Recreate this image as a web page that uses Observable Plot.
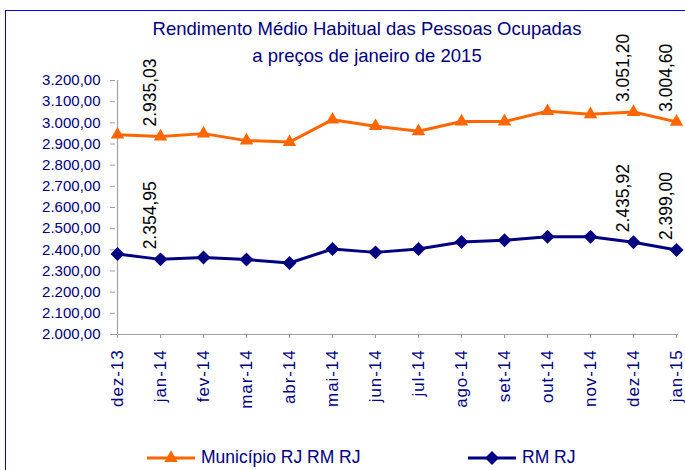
<!DOCTYPE html>
<html>
<head>
<meta charset="utf-8">
<script src="https://cdn.jsdelivr.net/npm/d3@7"></script>
<script src="https://cdn.jsdelivr.net/npm/@observablehq/plot@0.6"></script>
<style>
html, body { margin: 0; padding: 0; background: #fff; overflow: hidden; }
#wrap { position: relative; width: 685px; height: 470px; overflow: hidden; font-family: "Liberation Sans", Arial, sans-serif; background: #fff; }
#border { position: absolute; left: 5px; top: 10px; width: 760px; height: 560px; border-left: 1.5px solid #0000ff; border-top: 1.5px solid #0000ff; box-sizing: border-box; }
#chart { position: absolute; left: 0; top: 0; }
#title { position: absolute; left: 0; width: 734px; top: 15px; text-align: center; color: #000080; font-size: 18.5px; line-height: 27px; }
.leg { position: absolute; top: 447px; height: 20px; display: flex; align-items: center; color: #000080; font-size: 17.5px; }
.leg svg { display: block; margin-right: 4px; }
#chart g[aria-label*="x-axis tick label"] text { letter-spacing: 0.9px; }
#chart g[aria-label="value-labels"] text { letter-spacing: 0.9px; }
</style>
</head>
<body>
<div id="wrap">
  <div id="chart"></div>
  <div id="border"></div>
  <div id="title">Rendimento Médio Habitual das Pessoas Ocupadas<br>a preços de janeiro de 2015</div>
  <div id="legend"></div>
</div>
<script>
const months = ["dez-13","jan-14","fev-14","mar-14","abr-14","mai-14","jun-14","jul-14","ago-14","set-14","out-14","nov-14","dez-14","jan-15"];
const municipio = [2944, 2935.03, 2949, 2916, 2909, 3015, 2984, 2960, 3006, 3006, 3055, 3040, 3051.20, 3004.60];
const rmrj = [2380, 2354.95, 2364, 2354, 2338, 2404, 2388, 2404, 2437, 2445, 2462, 2462, 2435.92, 2399.00];
const yTicks = [2000, 2100, 2200, 2300, 2400, 2500, 2600, 2700, 2800, 2900, 3000, 3100, 3200];
const labeledMonths = ["jan-14", "dez-14", "jan-15"];
const seriesNames = ["Município RJ RM RJ", "RM RJ"];
const colors = ["#FF6600", "#000080"];

const fmt = d3.formatLocale({decimal: ",", thousands: ".", grouping: [3], currency: ["R$", ""]}).format(",.2f");

const diamond = {
  draw(context, size) {
    const r = Math.sqrt(size) * 0.62625;
    context.moveTo(0, -r);
    context.lineTo(r, 0);
    context.lineTo(0, r);
    context.lineTo(-r, 0);
    context.closePath();
  }
};
const symbols = [d3.symbolTriangle, diamond];
const radii = [5, 6.3];

const rows = [];
months.forEach((m, i) => {
  rows.push({month: m, series: seriesNames[0], value: municipio[i]});
  rows.push({month: m, series: seriesNames[1], value: rmrj[i]});
});
const labels = rows.filter(d => labeledMonths.includes(d.month));

const plot = Plot.plot({
  width: 685,
  height: 470,
  marginLeft: 115,
  marginRight: 7,
  marginTop: 80,
  marginBottom: 136,
  style: {background: "transparent", overflow: "visible", fontFamily: "'Liberation Sans', Arial, sans-serif"},
  x: {type: "point", domain: months, padding: 0, label: null},
  y: {domain: [yTicks[0], yTicks[yTicks.length - 1]], label: null},
  color: {domain: seriesNames, range: colors},
  marks: [
    Plot.ruleY([yTicks[0]], {stroke: "#a0a0a0", strokeWidth: 1.2}),
    Plot.ruleX([months[0]], {stroke: "#a0a0a0", strokeWidth: 1.2}),
    Plot.axisY({ticks: yTicks, tickFormat: fmt, tickSize: 5, tickPadding: 10, stroke: "#a0a0a0", fill: "#000080", fontSize: 15, label: null}),
    Plot.axisX({tickSize: 4, tickPadding: 11, tickRotate: -90, stroke: "#a0a0a0", fill: "#000080", fontSize: 17, label: null}),
    Plot.line(rows, {x: "month", y: "value", z: "series", stroke: "series", strokeWidth: 3}),
    Plot.dot(rows.filter(d => d.series === seriesNames[0]), {x: "month", y: "value", symbol: symbols[0], r: radii[0], fill: colors[0], stroke: null}),
    Plot.dot(rows.filter(d => d.series === seriesNames[1]), {x: "month", y: "value", symbol: symbols[1], r: radii[1], fill: colors[1], stroke: null}),
    Plot.text(labels, {x: "month", y: "value", text: d => fmt(d.value), rotate: -90, textAnchor: "start", dx: -10, dy: -10, fontSize: 17.5, fill: "#000", ariaLabel: "value-labels"})
  ]
});
document.getElementById("chart").appendChild(plot);

// legend
const legend = document.getElementById("legend");
const legLeft = [145, 466];
seriesNames.forEach((name, i) => {
  const div = document.createElement("div");
  div.className = "leg";
  div.style.left = legLeft[i] + "px";
  const path = d3.symbol(symbols[i], Math.PI * radii[i] * radii[i])();
  div.innerHTML = `<svg width="52" height="20"><line x1="2" x2="50" y1="11" y2="11" stroke="${colors[i]}" stroke-width="3"/><path transform="translate(26,11)" d="${path}" fill="${colors[i]}"/></svg><span>${name}</span>`;
  legend.appendChild(div);
});
</script>
</body>
</html>
